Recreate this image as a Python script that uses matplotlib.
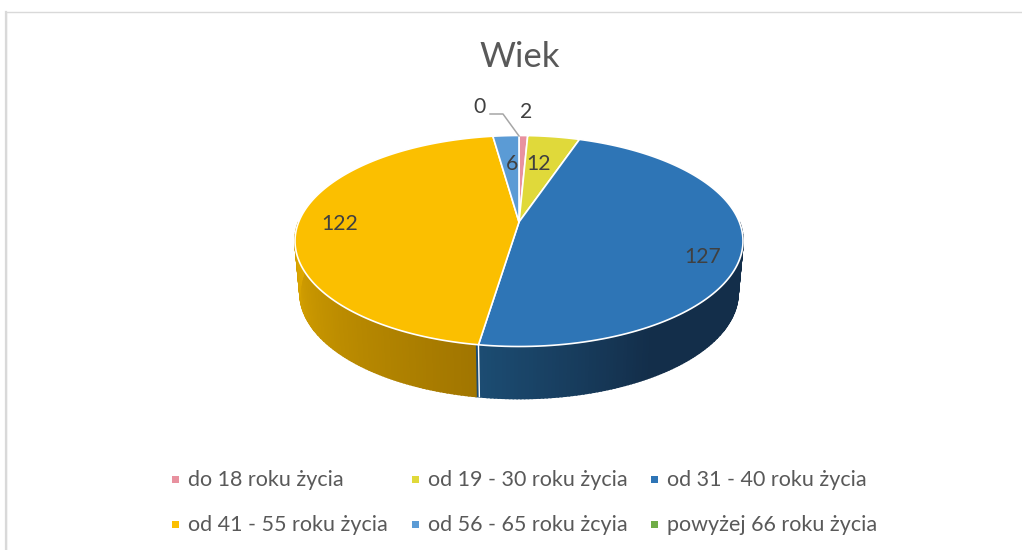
import numpy as np
import matplotlib
matplotlib.use('Agg')
import matplotlib.pyplot as plt
from matplotlib.patches import Rectangle

plt.rcParams['font.family'] = ['Lato', 'DejaVu Sans']

title = 'Wiek'
categories = ['do 18 roku życia', 'od 19 - 30 roku życia', 'od 31 - 40 roku życia',
              'od 41 - 55 roku życia', 'od 56 - 65 roku żcyia', 'powyżej 66 roku życia']
values = [2, 12, 127, 122, 6, 0]
colors = ['#E8919F', '#E0D93A', '#2E75B6', '#FBBF00', '#5B9BD5', '#70AD47']

CX, CY, RX, RY = 519, 241, 224, 105.5
BY, BRX = 293, 219
TILT = 0.18
text_col = '#404040'


def project(theta, cy=CY, rx=RX, r=1.0):
    # angle measured clockwise from the top, with perspective on the disc
    u = r * np.sin(theta)
    v = r * np.cos(theta)
    d = 1 + TILT * v
    return CX + rx * u * np.sqrt(1 - TILT**2) / d, cy - RY * (v + TILT) / d


def shade(start, end, t):
    return tuple(np.array(start) + (np.array(end) - np.array(start)) * t)


fig = plt.figure(figsize=(10.22, 5.5), dpi=100)
ax = fig.add_axes([0, 0, 1, 1])
ax.set_xlim(0, 1022)
ax.set_ylim(550, 0)
ax.axis('off')

# picture frame, only top and left show
ax.plot([1022, 6, 6], [11.5, 11.5, 550], color='#D9D9D9', lw=1.0)
ax.plot([6, 6], [11.5, 550], color='#D9D9D9', lw=1.6)

edges = np.cumsum([0] + values) / sum(values) * 2 * np.pi

yellow_a, yellow_b = (0.87, 0.66, 0.0), (0.63, 0.46, 0.0)
blue_a, blue_b = (0.11, 0.30, 0.45), (0.075, 0.18, 0.29)

# side wall, cut into thin strips so it can carry a gradient
seam = edges[3]
steps = np.linspace(np.pi / 2, 3 * np.pi / 2, 220)
for th0, th1 in zip(steps[:-1], steps[1:]):
    xt0, yt0 = project(th0)
    xt1, yt1 = project(th1)
    xb0, yb0 = project(th0, BY, BRX)
    xb1, yb1 = project(th1, BY, BRX)
    if th0 < seam:
        s = min((seam - th0) / (seam - np.pi / 2) / 0.4, 1)
        c = shade(blue_a, blue_b, s)
    else:
        t = (th0 - seam) / (3 * np.pi / 2 - seam)
        c = shade(yellow_b, yellow_a, t)
    ax.fill([xt0, xt1, xb1, xb0], [yt0, yt1, yb1, yb0], color=c, lw=1.2, zorder=1)

xs0, ys0 = project(seam)
xs1, ys1 = project(seam, BY, BRX)
ax.plot([xs0, xs1], [ys0, ys1], color='white', lw=1.0, zorder=2)

# top face
apex = project(0.0, r=0.0)
for i, val in enumerate(values):
    if val == 0:
        continue
    th = np.linspace(edges[i], edges[i + 1], 120)
    x, y = project(th)
    ax.fill(np.r_[apex[0], x], np.r_[apex[1], y], facecolor=colors[i],
            edgecolor='white', lw=1.2, zorder=3, joinstyle='round')

# data labels
label_pos = [(526, 112), (539, 164), (703, 257), (340, 224), (512, 164), (480, 107)]
for val, (lx, ly) in zip(values, label_pos):
    ax.text(lx, ly, str(val), fontsize=15.2, color=text_col, ha='center', va='center', zorder=5)
ax.plot([490, 503, 519], [114, 114, 136], color='#A6A6A6', lw=1.1, zorder=4)

ax.text(520, 57, title, fontsize=25, color='#595959', ha='center', va='center')

# legend
legend_x = [175, 415, 654, 175, 415, 654]
legend_y = [480, 480, 480, 525, 525, 525]
for name, c, lx, ly in zip(categories, colors, legend_x, legend_y):
    ax.add_patch(Rectangle((lx - 3.5, ly - 4.5), 7, 7, color=c, lw=0))
    ax.text(lx + 13, ly, name, fontsize=15.5, color='#595959', ha='left', va='center')

fig.savefig('out.png', dpi=100)
